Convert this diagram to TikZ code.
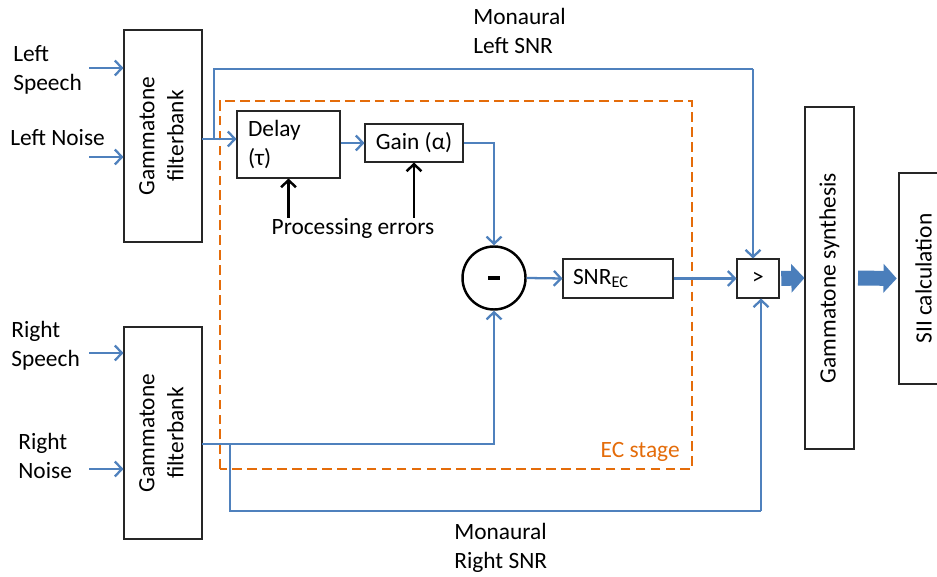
\documentclass[tikz,border=0pt]{standalone}
\usepackage{fontspec}
\setmainfont{Carlito}
\usepackage{graphicx}
\usetikzlibrary{arrows, arrows.meta}
\definecolor{sigblue}{HTML}{4F81BD}
\definecolor{ecorange}{HTML}{E46C0A}
\definecolor{fatblue}{HTML}{4A7EBB}
\tikzset{
  sig/.style={sigblue, line width=1.3pt, -{Straight Barb[length=4pt,width=8.5pt]}},
  wire/.style={sigblue, line width=1.3pt},
  blockbox/.style={draw=black!85, line width=0.6pt, inner sep=0pt},
  lbl/.style={align=left, inner sep=0pt},
  errarrow/.style={black, line width=1.4pt, -{Straight Barb[length=4pt,width=8.5pt]}},
  fatarrow/.style={fatblue, line width=8.5pt, -{Triangle[length=7.5pt,width=16pt]}},
}
\begin{document}
\begin{tikzpicture}[font=\fontsize{13.3}{16.5}\selectfont]
\useasboundingbox (0,0) rectangle (18.74,11.52);
%\draw[step=0.5cm,gray,very thin] (0,0) grid (18.74,11.52);
\draw[ecorange, line width=1.4pt, dash pattern=on 5.5pt off 3pt] (4.40,2.14) rectangle (13.84,9.50);
\node[ecorange, anchor=east, inner sep=0pt] (ec) at (13.6,2.48) {EC stage};
\node[blockbox, minimum width=1.56cm, minimum height=4.24cm] (lfb) at (3.26,8.80) {\rotatebox{90}{\begin{tabular}{@{}c@{}}Gammatone\\filterbank\end{tabular}}};
\node[blockbox, minimum width=1.56cm, minimum height=4.24cm] (rfb) at (3.26,2.86) {\rotatebox{90}{\begin{tabular}{@{}c@{}}Gammatone\\filterbank\end{tabular}}};
\node[lbl, anchor=west] (lsp) at (0.26,10.12) {Left\\Speech};
\node[lbl, anchor=west] (lno) at (0.2,8.76) {Left Noise};
\node[lbl, anchor=west] (rsp) at (0.22,4.6) {Right\\Speech};
\node[lbl, anchor=west] (rno) at (0.36,2.4) {Right\\Noise};
\coordinate (lspin) at (1.78,10.16);
\coordinate (lnoin) at (1.78,8.38);
\coordinate (rspin) at (1.78,4.46);
\coordinate (rnoin) at (1.78,2.14);
\draw[sig] (lspin) -- (lspin -| lfb.west);
\draw[sig] (lnoin) -- (lnoin -| lfb.west);
\draw[sig] (rspin) -- (rspin -| rfb.west);
\draw[sig] (rnoin) -- (rnoin -| rfb.west);
\node[blockbox, text width=1.62cm, inner xsep=0.22cm, minimum height=1.34cm, align=left] (delay) at (5.77,8.63) {Delay\\(τ)};
\node[blockbox, minimum width=1.96cm, minimum height=0.76cm] (gain) at (8.28,8.66) {Gain (α)};
\node[lbl] (perr) at (7.06,6.96) {Processing errors};
\node[circle, draw, line width=1.4pt, minimum size=1.26cm, inner sep=0pt] (minus) at (9.88,5.96) {\rule[-1.1pt]{0.23cm}{2.2pt}};
\node[blockbox, text width=1.8cm, inner xsep=0.2cm, minimum height=0.78cm, align=left] (snr) at (12.36,5.95) {SNR\textsubscript{EC}};
\node[blockbox, minimum width=0.84cm, minimum height=0.78cm] (cmp) at (15.16,5.95) {>};
\node[blockbox, minimum width=0.98cm, minimum height=6.84cm] (synth) at (16.59,5.96) {\rotatebox{90}{Gammatone synthesis}};
\node[blockbox, minimum width=0.98cm, minimum height=4.22cm] (sii) at (18.47,5.95) {\rotatebox{90}{SII calculation}};
\node[lbl, anchor=west] (mlsnr) at (9.46,10.91) {Monaural\\Left SNR};
\node[lbl, anchor=west] (mrsnr) at (9.08,0.57) {Monaural\\Right SNR};
\coordinate (lout) at (4.04,8.74);
\coordinate (lbr) at (4.28,8.74);
\coordinate (ltop) at (15.06,10.14);
\coordinate (rout) at (4.04,2.64);
\coordinate (rbr) at (4.6,2.64);
\coordinate (rbot) at (15.22,1.30);
\draw[sig] (lout) -- (lout -| delay.west);
\draw[wire] (lbr) |- (ltop);
\draw[sig] (ltop) -- (ltop |- cmp.north);
\draw[sig] (delay.east |- gain) -- (gain.west);
\draw[sig] (gain.east) -| (minus.north);
\draw[errarrow] (perr.north -| delay) -- (delay.south);
\draw[errarrow] (perr.north -| gain) -- (gain.south);
\draw[sig] (minus.east) -- (snr.west);
\draw[sig] (snr.east) -- (cmp.west);
\draw[sig] (rout) -| (minus.south);
\draw[wire] (rbr) |- (rbot);
\draw[sig] (rbot) -- (rbot |- cmp.south);
\draw[fatarrow, shorten <=1pt] (cmp.east) -- (synth.west);
\draw[fatarrow, shorten <=2pt, shorten >=1pt] (synth.east) -- (sii.west);
\end{tikzpicture}
\end{document}
